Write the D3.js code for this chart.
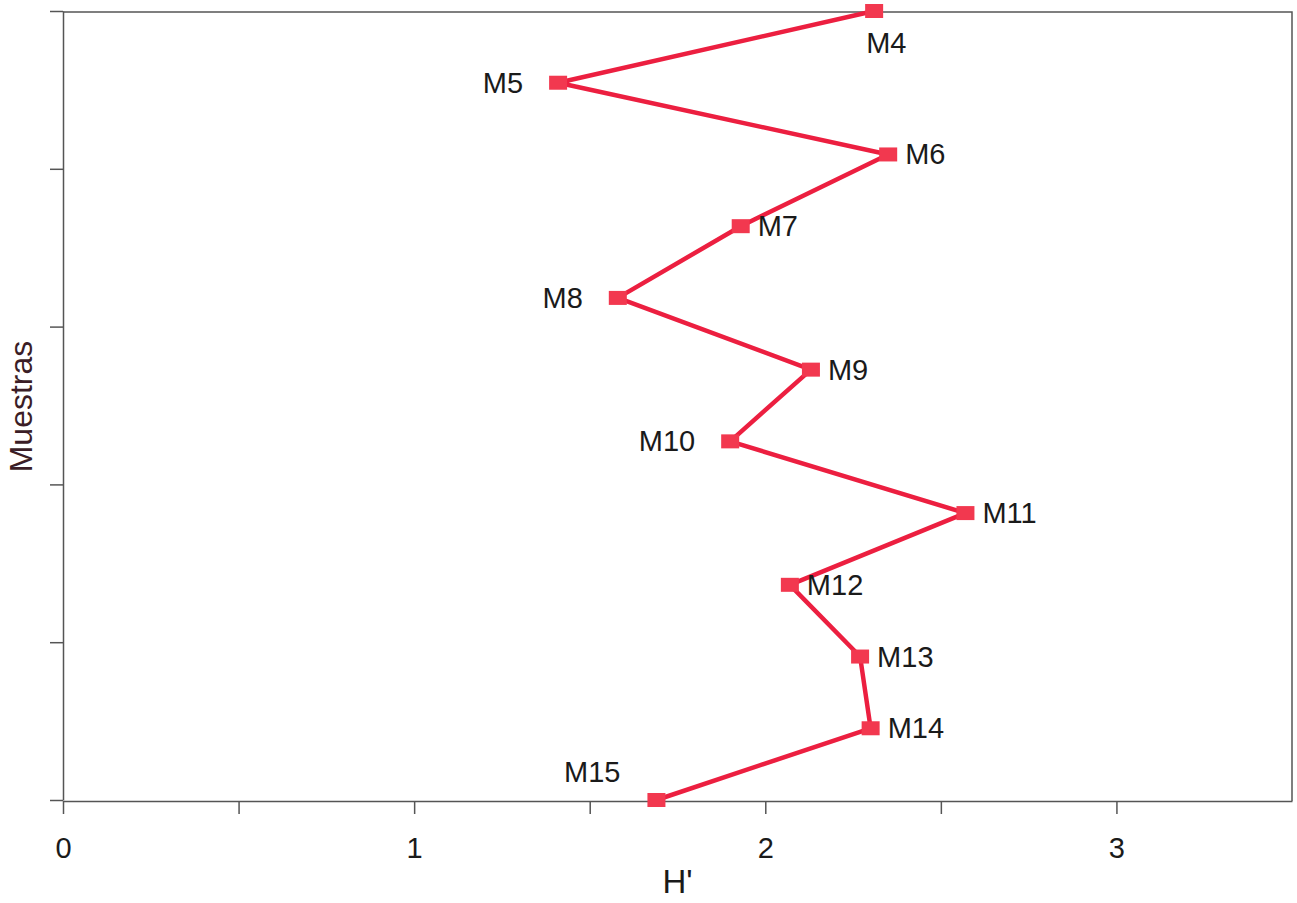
<!DOCTYPE html>
<html>
<head>
<meta charset="utf-8">
<script src="https://cdn.jsdelivr.net/npm/d3@7"></script>
<style>
  body { margin: 0; background: #fff; }
  svg { display: block; font-family: "Liberation Sans", Arial, sans-serif; }
</style>
</head>
<body>
<div id="chart"></div>
<script>
const samples = ["M4", "M5", "M6", "M7", "M8", "M9", "M10", "M11", "M12", "M13", "M14", "M15"];
const hValues = [2.31, 1.41, 2.35, 1.93, 1.58, 2.13, 1.90, 2.57, 2.07, 2.27, 2.30, 1.69];
const labelSide = ["below", "left", "right", "right", "left", "right", "left", "right", "right", "right", "right", "aboveleft"];
const xTicks = [0, 0.5, 1, 1.5, 2, 2.5, 3, 3.5];
const yTicks = [0, 2.2, 4.4, 6.6, 8.8, 11];

const width = 1297;
const height = 903;
const plotLeft = 63, plotRight = 1292, plotTop = 12, plotBottom = 801;

const svg = d3.select("#chart")
  .append("svg")
  .attr("width", width)
  .attr("height", height);

const x = d3.scaleLinear().domain([0, 3.5]).range([plotLeft, plotRight]);
const y = d3.scaleLinear().domain([0, samples.length - 1]).range([plotTop - 1, plotBottom - 1]);

// frame (top + right)
svg.append("path")
  .attr("d", `M${plotLeft},${plotTop}H${plotRight}V${plotBottom}`)
  .attr("fill", "none")
  .attr("stroke", "#555")
  .attr("stroke-width", 1.5);

const xAxis = svg.append("g")
  .attr("transform", `translate(0,${plotBottom})`)
  .call(d3.axisBottom(x).tickValues(xTicks).tickSize(13).tickSizeOuter(0)
    .tickFormat(d => Number.isInteger(d) ? d : ""));

const yAxis = svg.append("g")
  .attr("transform", `translate(${plotLeft},0)`)
  .call(d3.axisLeft(y).tickValues(yTicks).tickSize(13).tickSizeOuter(0).tickFormat(""));

[xAxis, yAxis].forEach(g => {
  g.select(".domain").attr("stroke", "#555").attr("stroke-width", 1.5);
  g.selectAll(".tick line").attr("stroke", "#555").attr("stroke-width", 1.5);
});
xAxis.selectAll(".tick").filter(d => d === 3.5).select("line").remove();
xAxis.selectAll(".tick text")
  .attr("font-size", 29)
  .attr("fill", "#1a1a1a")
  .attr("dy", 0)
  .attr("y", 57)
  .attr("font-family", "Liberation Sans, Arial, sans-serif");

svg.append("text")
  .attr("x", (plotLeft + plotRight) / 2)
  .attr("y", 893)
  .attr("text-anchor", "middle")
  .attr("font-size", 33)
  .attr("fill", "#1a1a1a")
  .text("H'");

svg.append("text")
  .attr("transform", `translate(32,${(plotTop + plotBottom) / 2}) rotate(-90)`)
  .attr("text-anchor", "middle")
  .attr("font-size", 32)
  .attr("fill", "#3b1d26")
  .text("Muestras");

const pts = samples.map((s, i) => ({ name: s, h: hValues[i], i, side: labelSide[i] }));

svg.append("path")
  .datum(pts)
  .attr("fill", "none")
  .attr("stroke", "#ec1f40")
  .attr("stroke-width", 4.5)
  .attr("stroke-linejoin", "round")
  .attr("d", d3.line().x(d => x(d.h)).y(d => y(d.i)));

svg.selectAll("rect.mark")
  .data(pts)
  .join("rect")
  .attr("class", "mark")
  .attr("x", d => x(d.h) - 9)
  .attr("y", d => y(d.i) - 7)
  .attr("width", 18)
  .attr("height", 14)
  .attr("fill", "#f2384f");

svg.selectAll("text.lab")
  .data(pts)
  .join("text")
  .attr("class", "lab")
  .attr("font-size", 29)
  .attr("fill", "#1a1a1a")
  .attr("x", d => {
    const cx = x(d.h);
    if (d.side === "right") return cx + 17;
    if (d.side === "left") return cx - 35;
    if (d.side === "below") return cx - 8;
    return cx - 36;
  })
  .attr("y", d => {
    const cy = y(d.i);
    if (d.side === "below") return cy + 42;
    if (d.side === "aboveleft") return cy - 18;
    return cy + 10;
  })
  .attr("text-anchor", d => (d.side === "left" || d.side === "aboveleft") ? "end" : "start")
  .text(d => d.name);
</script>
</body>
</html>
